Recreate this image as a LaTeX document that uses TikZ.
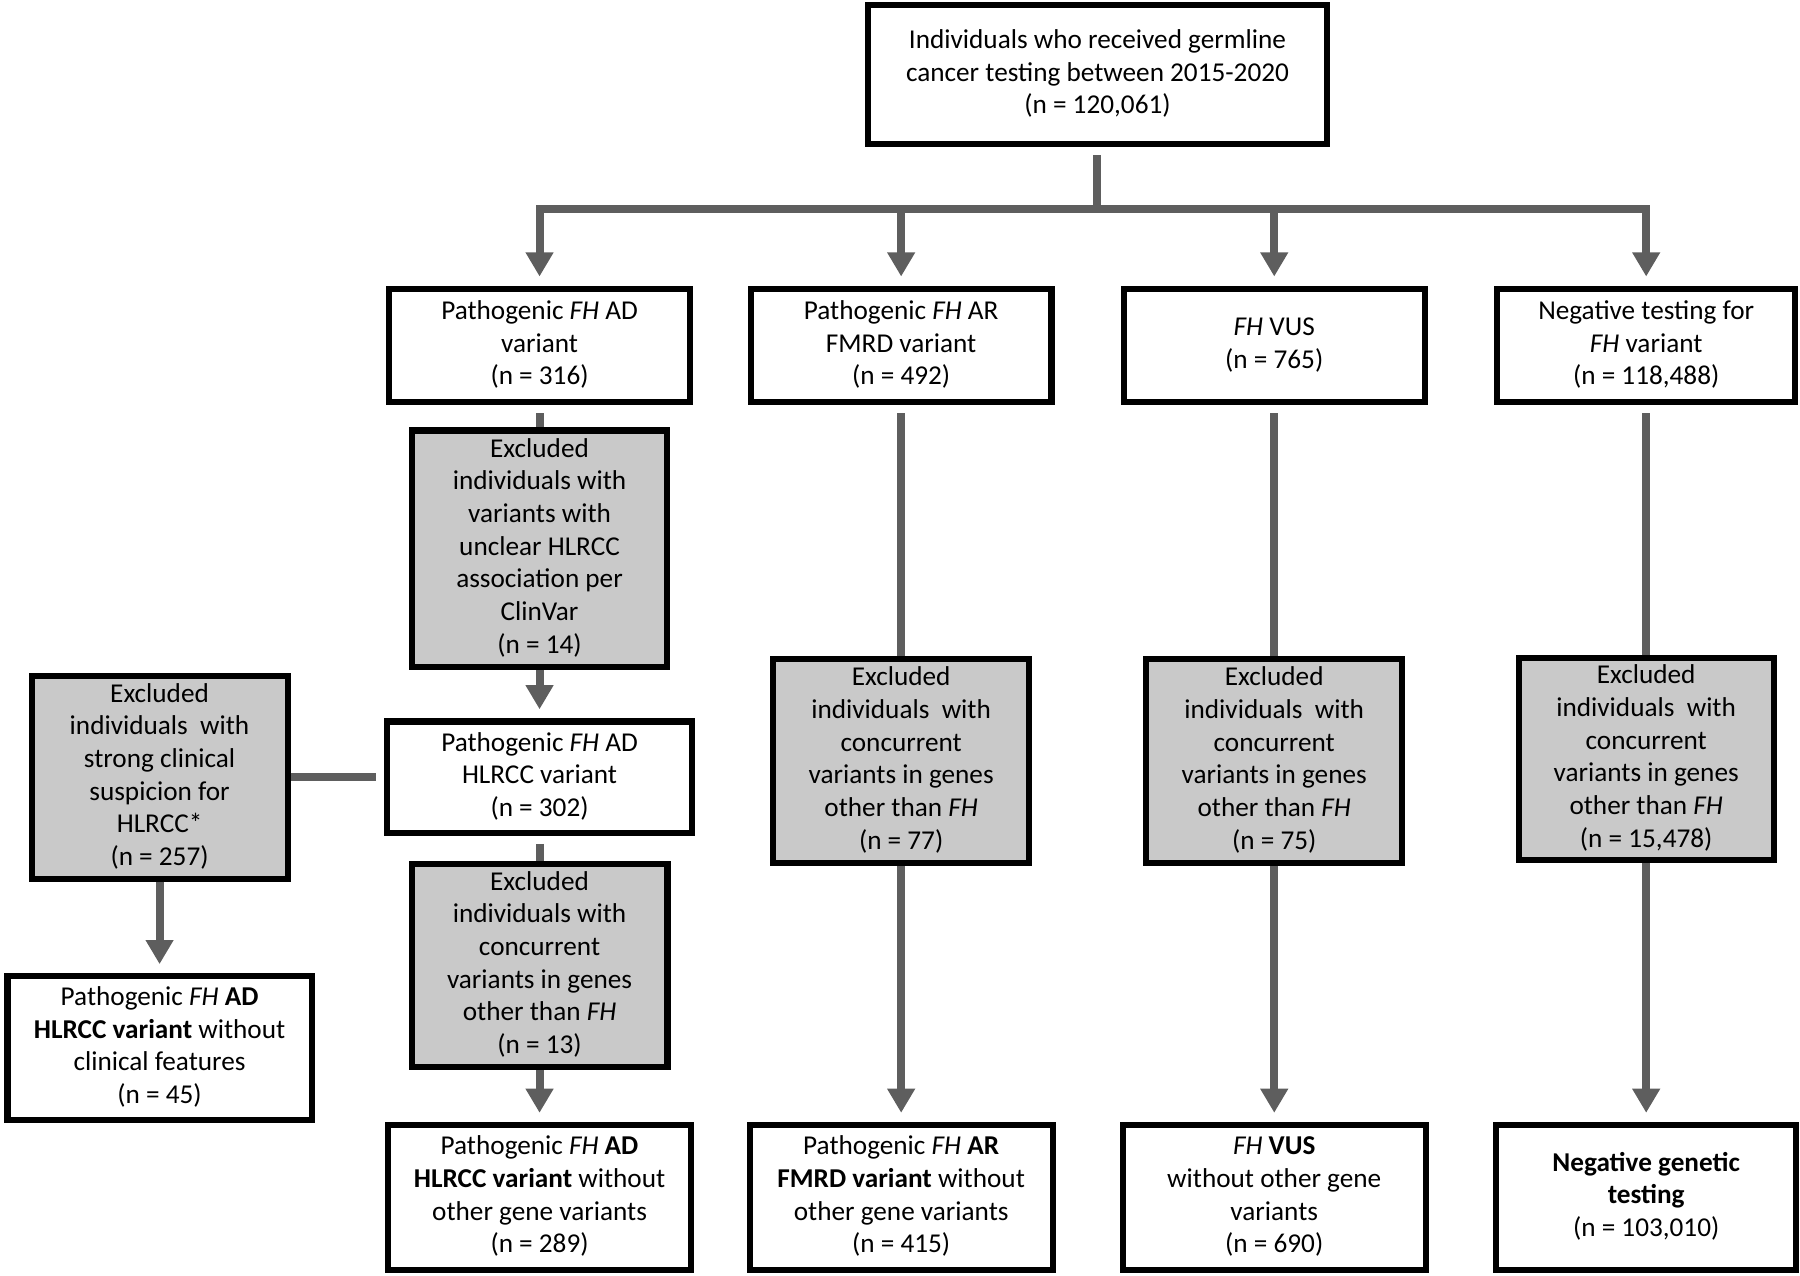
\documentclass[tikz,border=0pt]{standalone}
\usepackage{fontspec}
\setmainfont{Carlito}
\usetikzlibrary{arrows.meta}
\definecolor{linegray}{HTML}{5E5E5E}
\definecolor{boxgray}{HTML}{C9C9C9}

\begin{document}
\begin{tikzpicture}[x=0.02cm, y=-0.02cm]
        \tikzstyle{every node}=[rectangle, fill=white, draw=black, line width=3pt, inner sep=0pt, font=\fontsize{13.5}{16.2}\selectfont, text=black]
        \tikzstyle{excl}=[fill=boxgray]
        \tikzstyle{edge}=[linegray, line width=4pt]
        \tikzstyle{arrow}=[edge, -{Triangle[width=0.46cm, length=0.42cm]}, shorten >=0.16cm]
        \useasboundingbox (0,0) rectangle (1568,1111);

        \node[minimum width=8cm, minimum height=2.42cm] (top) at (956,65) {\begin{tabular}{c} Individuals who received germline \\ cancer testing between 2015-2020 \\ (n = 120,061) \end{tabular}};

        \node[minimum width=5.24cm, minimum height=1.98cm] (ad)  at (470,301)  {\begin{tabular}{c} Pathogenic \textit{FH} AD \\ variant \\ (n = 316) \end{tabular}};
        \node[minimum width=5.24cm, minimum height=1.98cm] (ar)  at (785,301)  {\begin{tabular}{c} Pathogenic \textit{FH} AR \\ FMRD variant \\ (n = 492) \end{tabular}};
        \node[minimum width=5.24cm, minimum height=1.98cm] (vus) at (1110,301) {\begin{tabular}{c} \textit{FH} VUS \\ (n = 765) \end{tabular}};
        \node[minimum width=5.2cm,  minimum height=1.98cm] (neg) at (1434,301) {\begin{tabular}{c} Negative testing for \\ \textit{FH} variant \\ (n = 118,488) \end{tabular}};

        \node[excl, minimum width=4.44cm, minimum height=4.12cm] (ex1) at (470,478) {\begin{tabular}{c} Excluded \\ individuals with \\ variants with \\ unclear HLRCC \\ association per \\ ClinVar \\ (n = 14) \end{tabular}};
        \node[minimum width=5.3cm, minimum height=1.94cm] (hl) at (470,677) {\begin{tabular}{c} Pathogenic \textit{FH} AD \\ HLRCC variant \\ (n = 302) \end{tabular}};
        \node[excl, minimum width=4.46cm, minimum height=3.54cm] (ex2) at (470,841) {\begin{tabular}{c} Excluded \\ individuals with \\ concurrent \\ variants in genes \\ other than \textit{FH} \\ (n = 13) \end{tabular}};
        \node[minimum width=5.28cm, minimum height=2.52cm] (fad) at (470,1043) {\begin{tabular}{c} Pathogenic \textit{FH} \textbf{AD} \\ \textbf{HLRCC variant} without \\ other gene variants \\ (n = 289) \end{tabular}};

        \node[excl, minimum width=4.46cm, minimum height=3.54cm] (ex3) at (139,677) {\begin{tabular}{c} Excluded \\ individuals~ with \\ strong clinical \\ suspicion for \\ HLRCC* \\ (n = 257) \end{tabular}};
        \node[minimum width=5.3cm, minimum height=2.5cm] (fcl) at (139,913) {\begin{tabular}{c} Pathogenic \textit{FH} \textbf{AD} \\ \textbf{HLRCC variant} without \\ clinical features \\ (n = 45) \end{tabular}};

        \node[excl, minimum width=4.46cm, minimum height=3.56cm] (exar)  at (785,663)  {\begin{tabular}{c} Excluded \\ individuals~ with \\ concurrent \\ variants in genes \\ other than \textit{FH} \\ (n = 77) \end{tabular}};
        \node[excl, minimum width=4.46cm, minimum height=3.56cm] (exvus) at (1110,663) {\begin{tabular}{c} Excluded \\ individuals~ with \\ concurrent \\ variants in genes \\ other than \textit{FH} \\ (n = 75) \end{tabular}};
        \node[excl, minimum width=4.44cm, minimum height=3.52cm] (exneg) at (1434,661) {\begin{tabular}{c} Excluded \\ individuals~ with \\ concurrent \\ variants in genes \\ other than \textit{FH} \\ (n = 15,478) \end{tabular}};

        \node[minimum width=5.28cm, minimum height=2.52cm] (far)  at (785,1043)  {\begin{tabular}{c} Pathogenic \textit{FH} \textbf{AR} \\ \textbf{FMRD variant} without \\ other gene variants \\ (n = 415) \end{tabular}};
        \node[minimum width=5.28cm, minimum height=2.52cm] (fvus) at (1110,1043) {\begin{tabular}{c} \textit{FH} \textbf{VUS} \\ without other gene \\ variants \\ (n = 690) \end{tabular}};
        \node[minimum width=5.22cm, minimum height=2.52cm] (fneg) at (1434,1043) {\begin{tabular}{c} \textbf{Negative genetic} \\ \textbf{testing} \\ (n = 103,010) \end{tabular}};

        % split under the top box
        \coordinate (split) at (956,182);
        \coordinate (b1) at (470,182);
        \coordinate (b4) at (1434,182);
        \draw[edge, shorten <=0.14cm] (top) -- (split);
        \draw[edge, line cap=rect] (b1) -- (b4);
        \draw[arrow] (b1) -- (ad);
        \draw[arrow] (ar |- b1) -- (ar);
        \draw[arrow] (vus |- b1) -- (vus);
        \draw[arrow] (b4) -- (neg);

        % AD column
        \draw[edge, shorten <=0.14cm] (ad) -- (ex1);
        \draw[arrow] (ex1) -- (hl);
        \draw[edge, shorten <=0.14cm] (hl) -- (ex2);
        \draw[arrow] (ex2) -- (fad);
        \draw[edge, shorten >=0.14cm] (ex3) -- (hl);
        \draw[arrow] (ex3) -- (fcl);

        % other columns
        \draw[edge, shorten <=0.14cm] (ar) -- (exar);
        \draw[arrow] (exar) -- (far);
        \draw[edge, shorten <=0.14cm] (vus) -- (exvus);
        \draw[arrow] (exvus) -- (fvus);
        \draw[edge, shorten <=0.14cm] (neg) -- (exneg);
        \draw[arrow] (exneg) -- (fneg);
    \end{tikzpicture}
\end{document}
